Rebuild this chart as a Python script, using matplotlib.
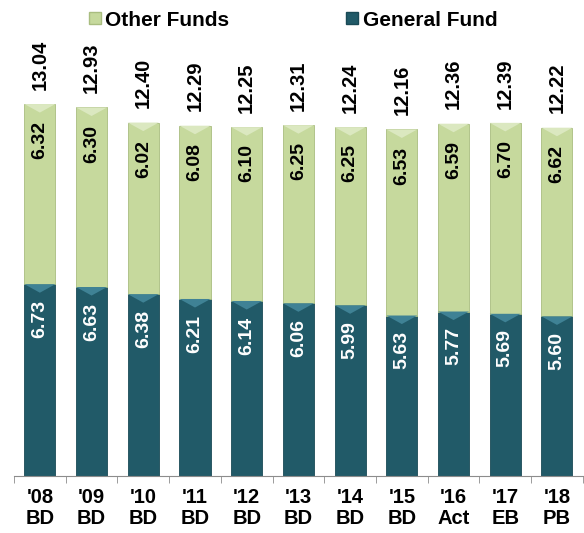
import numpy as np
import matplotlib
matplotlib.use("Agg")
from matplotlib import pyplot as plt
from matplotlib.lines import Line2D

plt.rcParams['font.family'] = ['Liberation Sans', 'DejaVu Sans']
plt.rcParams['font.weight'] = 'bold'

years = ["'08\nBD", "'09\nBD", "'10\nBD", "'11\nBD", "'12\nBD", "'13\nBD",
         "'14\nBD", "'15\nBD", "'16\nAct", "'17\nEB", "'18\nPB"]
general_fund = [6.73, 6.63, 6.38, 6.21, 6.14, 6.06, 5.99, 5.63, 5.77, 5.69, 5.60]
other_funds = [6.32, 6.30, 6.02, 6.08, 6.10, 6.25, 6.25, 6.53, 6.59, 6.70, 6.62]
totals = [13.04, 12.93, 12.40, 12.29, 12.25, 12.31, 12.24, 12.16, 12.36, 12.39, 12.22]

teal = '#215a68'
green = '#c6d99d'

fig = plt.figure(figsize=(5.84, 5.33), dpi=100)
ax = fig.add_axes([0.024, 0.107, 0.974, 0.893])

x = np.arange(len(years))
w = 0.6
ax.bar(x, general_fund, w, color=teal, edgecolor='#1a4a56', linewidth=0.6)
ax.bar(x, other_funds, w, bottom=general_fund, color=green,
       edgecolor='#a9bd80', linewidth=0.6)

# little bevel at top of each segment
for i in x:
    for base, h, c in [(0, general_fund[i], '#3f8295'), (general_fund[i], other_funds[i], '#dbe8c0')]:
        top = base + h
        ax.fill([i - w / 2, i + w / 2, i], [top, top, top - 0.3], color=c, lw=0)

for i in x:
    ax.text(i, general_fund[i] - 0.55, f"{general_fund[i]:.2f}", rotation=90,
            ha='center', va='top', color='white', fontsize=14, fontweight='bold')
    ax.text(i, general_fund[i] + other_funds[i] - 0.6, f"{other_funds[i]:.2f}",
            rotation=90, ha='center', va='top', color='black', fontsize=14,
            fontweight='bold')
    ax.text(i, general_fund[i] + other_funds[i] + 0.5, f"{totals[i]:.2f}",
            rotation=90, ha='center', va='bottom', color='black', fontsize=14.5,
            fontweight='bold')

ax.set_xlim(-0.5, len(years) - 0.5)
ax.set_ylim(0, 16.7)
ax.set_yticks([])
for s in ['top', 'right', 'left']:
    ax.spines[s].set_visible(False)
ax.spines['bottom'].set_color('#8c8c8c')

ax.set_xticks(x)
ax.set_xticklabels(years, fontsize=14.5, fontweight='bold', linespacing=1.1)
ax.tick_params(axis='x', which='major', length=0, pad=9)
ax.set_xticks(np.arange(-0.5, len(years)), minor=True)
ax.tick_params(axis='x', which='minor', length=5, color='#8c8c8c')

handles = [Line2D([], [], marker='s', ls='', markersize=9, markerfacecolor=green,
                  markeredgecolor='#a9bd80'),
           Line2D([], [], marker='s', ls='', markersize=9, markerfacecolor=teal,
                  markeredgecolor='#1a4a56')]
fig.legend(handles, ['Other Funds', 'General Fund'], loc='center',
           bbox_to_anchor=(0.5, 0.962), ncol=2, frameon=False,
           prop={'size': 15, 'weight': 'bold'}, handletextpad=0.1,
           columnspacing=5.5, handlelength=0.8)

fig.savefig('out.png', dpi=100)
